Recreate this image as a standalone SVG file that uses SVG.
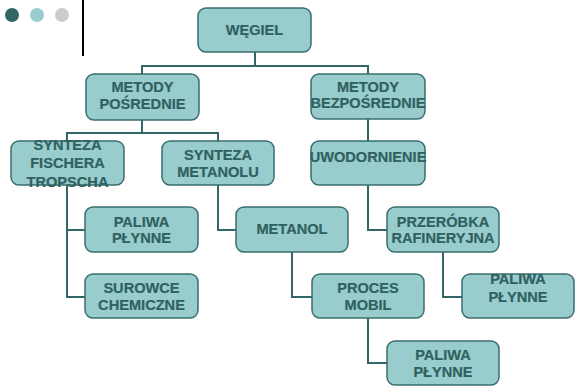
<svg xmlns="http://www.w3.org/2000/svg" width="575" height="392" viewBox="0 0 575 392">
  <style>
    .box { fill: #99cccc; stroke: #3a6e6e; stroke-width: 1.5; }
    .lbl { font-family: "Liberation Sans", Arial, sans-serif; font-weight: bold; font-size: 14.6px; fill: #2f6161; stroke: #2f6161; stroke-width: 0.2; text-anchor: middle; }
    .wire { fill: none; stroke: #336666; stroke-width: 2; }
  </style>
  <rect width="575" height="392" fill="#ffffff"/>

  <!-- header dots and rule -->
  <g id="header">
    <circle cx="12" cy="15" r="7" fill="#336666"/>
    <circle cx="37" cy="15" r="7" fill="#99cccc"/>
    <circle cx="62" cy="15" r="7" fill="#cccccc"/>
    <line x1="83" y1="0" x2="83" y2="56" stroke="#000000" stroke-width="2"/>
  </g>

  <!-- connectors -->
  <g id="connectors" class="wire">
    <path d="M255 52 V66 M142 74 V66 H368 V74"/>
    <path d="M142 120 V133 M67 141 V133 H218 V141"/>
    <path d="M368 119 V141"/>
    <path d="M67 185 V297 H86 M67 230 H86"/>
    <path d="M218 185 V230 H236"/>
    <path d="M292 252 V297 H312"/>
    <path d="M368 185 V230 H387"/>
    <path d="M443 252 V297 H462"/>
    <path d="M368 318 V363 H387"/>
  </g>

  <g id="wegiel">
    <rect class="box" x="198" y="8" width="113" height="44" rx="8"/>
    <text class="lbl" x="254.5" y="35">WĘGIEL</text>
  </g>
  <g id="metody-posrednie">
    <rect class="box" x="86" y="74" width="113" height="46" rx="8"/>
    <text class="lbl" x="142.5" y="92">METODY</text>
    <text class="lbl" x="142.5" y="109">POŚREDNIE</text>
  </g>
  <g id="metody-bezposrednie">
    <rect class="box" x="311" y="74" width="114" height="45" rx="8"/>
    <text class="lbl" x="368" y="92">METODY</text>
    <text class="lbl" x="368" y="108">BEZPOŚREDNIE</text>
  </g>
  <g id="synteza-fischera">
    <rect class="box" x="11" y="141" width="113" height="44" rx="8"/>
    <text class="lbl" x="67.5" y="150">SYNTEZA</text>
    <text class="lbl" x="67.5" y="168">FISCHERA</text>
    <text class="lbl" x="67.5" y="187">TROPSCHA</text>
  </g>
  <g id="synteza-metanolu">
    <rect class="box" x="162" y="141" width="112" height="44" rx="8"/>
    <text class="lbl" x="218" y="160">SYNTEZA</text>
    <text class="lbl" x="218" y="177">METANOLU</text>
  </g>
  <g id="uwodornienie">
    <rect class="box" x="311" y="141" width="114" height="44" rx="8"/>
    <text class="lbl" x="368" y="162">UWODORNIENIE</text>
  </g>
  <g id="paliwa-plynne-1">
    <rect class="box" x="85" y="207" width="113" height="45" rx="8"/>
    <text class="lbl" x="141.5" y="227">PALIWA</text>
    <text class="lbl" x="141.5" y="243">PŁYNNE</text>
  </g>
  <g id="surowce-chemiczne">
    <rect class="box" x="85" y="274" width="113" height="44" rx="8"/>
    <text class="lbl" x="141.5" y="293">SUROWCE</text>
    <text class="lbl" x="141.5" y="310">CHEMICZNE</text>
  </g>
  <g id="metanol">
    <rect class="box" x="236" y="207" width="112" height="45" rx="8"/>
    <text class="lbl" x="292" y="234">METANOL</text>
  </g>
  <g id="przerobka">
    <rect class="box" x="387" y="207" width="112" height="45" rx="8"/>
    <text class="lbl" x="443" y="227">PRZERÓBKA</text>
    <text class="lbl" x="443" y="243">RAFINERYJNA</text>
  </g>
  <g id="proces-mobil">
    <rect class="box" x="312" y="274" width="112" height="44" rx="8"/>
    <text class="lbl" x="368" y="293">PROCES</text>
    <text class="lbl" x="368" y="310">MOBIL</text>
  </g>
  <g id="paliwa-plynne-2">
    <rect class="box" x="462" y="274" width="112" height="44" rx="8"/>
    <text class="lbl" x="518" y="284">PALIWA</text>
    <text class="lbl" x="518" y="302">PŁYNNE</text>
  </g>
  <g id="paliwa-plynne-3">
    <rect class="box" x="387" y="341" width="112" height="44" rx="8"/>
    <text class="lbl" x="443" y="360">PALIWA</text>
    <text class="lbl" x="443" y="377">PŁYNNE</text>
  </g>
</svg>
